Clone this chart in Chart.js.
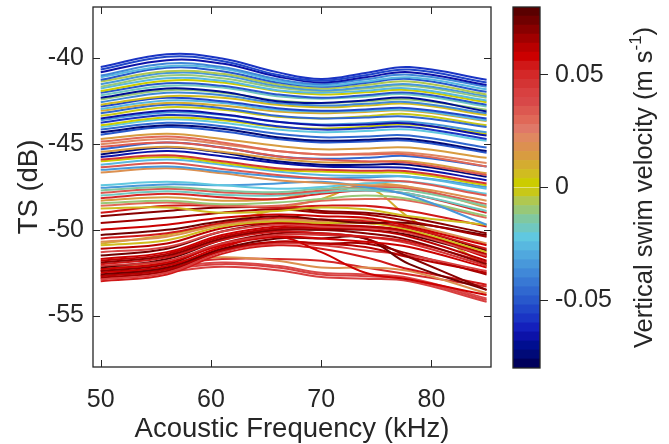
<!DOCTYPE html>
<html>
<head>
<meta charset="utf-8">
<title>TS vs frequency</title>
<script src="https://cdn.jsdelivr.net/npm/chart.js"></script>
<style>
  body { margin: 0; background: #fff; }
  #wrap { position: relative; width: 669px; height: 444px; }
  #tsChart { position: absolute; left: 0; top: 0; }
  #cbChart { position: absolute; left: 505px; top: 0; }
</style>
</head>
<body>
<div id="wrap">
  <canvas id="tsChart" width="669" height="444"></canvas>
  <canvas id="cbChart" width="164" height="444"></canvas>
</div>
<script>
const freqKHz = [50, 56, 61, 66, 70, 74, 78, 85];
const freqTicks = [50, 60, 70, 80];
const tsTicks = [-55, -50, -45, -40];
const tsTickLabels = ['-55', '-50', '-45', '-40'];

// vertical swim velocity (m/s) of each curve -> its colour
const swimVelocity = [
  // upper (blue / cyan / yellow)
  -0.060, -0.055, -0.066, -0.040, -0.028, -0.050, -0.006, -0.035, -0.012, -0.025,
  0.002, -0.050, -0.018, -0.070, -0.010, -0.038, 0.004, -0.055, -0.027, 0.008,
  -0.048, -0.004, -0.068, -0.033, -0.058, 0.000, -0.022, -0.045, -0.076, -0.052,
  // middle mix
  0.015, 0.030, 0.020, 0.035, -0.045, 0.012, -0.074, -0.066, 0.045, 0.003, -0.026, 0.033, -0.036, 0.018,
  // lower mix
  -0.024, -0.035, -0.014, 0.032, -0.017, 0.050, 0.014, -0.009, 0.028, 0.005, 0.055,
  // red bundle
  0.070, 0.066, 0.058, 0.074, 0.055, 0.016, 0.006, 0.060, 0.038, 0.072, 0.057, 0.062,
  0.068, 0.052, 0.045, 0.078, 0.058, 0.070, 0.056, 0.074, 0.060, 0.042, 0.053, 0.066,
  // bottom stragglers
  0.018, 0.036, 0.040, 0.043, 0.050, 0.010
];

// TS (dB) of each curve at freqKHz
const tsCurves = [
  [-40.5, -39.75, -40.0, -40.8, -41.2, -40.85, -40.5, -41.25],
  [-40.65, -39.9, -40.15, -40.95, -41.3, -40.98, -40.65, -41.4],
  [-40.8, -40.1, -40.3, -41.05, -41.4, -41.1, -40.8, -41.55],
  [-41.0, -40.3, -40.5, -41.2, -41.5, -41.22, -40.95, -41.65],
  [-41.1, -40.45, -40.6, -41.3, -41.6, -41.35, -41.1, -41.8],
  [-41.25, -40.55, -40.75, -41.4, -41.65, -41.43, -41.2, -41.95],
  [-41.35, -40.75, -40.9, -41.5, -41.75, -41.55, -41.35, -42.1],
  [-41.5, -40.85, -41.0, -41.6, -41.85, -41.68, -41.5, -42.2],
  [-41.65, -41.0, -41.15, -41.7, -41.9, -41.75, -41.6, -42.3],
  [-41.75, -41.15, -41.3, -41.85, -42.0, -41.88, -41.75, -42.45],
  [-41.9, -41.3, -41.4, -41.9, -42.1, -41.98, -41.85, -42.55],
  [-42.0, -41.45, -41.6, -42.1, -42.3, -42.15, -42.0, -42.7],
  [-42.15, -41.6, -41.7, -42.2, -42.35, -42.23, -42.1, -42.8],
  [-42.3, -41.75, -41.95, -42.5, -42.6, -42.45, -42.3, -43.1],
  [-42.4, -41.85, -42.0, -42.45, -42.6, -42.5, -42.4, -43.0],
  [-42.55, -42.0, -42.15, -42.6, -42.75, -42.65, -42.55, -43.2],
  [-42.7, -42.2, -42.3, -42.7, -42.85, -42.75, -42.65, -43.3],
  [-42.8, -42.3, -42.5, -42.9, -43.05, -42.98, -42.9, -43.5],
  [-42.95, -42.45, -42.6, -43.0, -43.1, -43.05, -43.0, -43.6],
  [-43.05, -42.6, -42.75, -43.1, -43.2, -43.12, -43.05, -43.65],
  [-43.2, -42.7, -42.9, -43.35, -43.5, -43.45, -43.4, -44.0],
  [-43.35, -42.85, -43.0, -43.4, -43.5, -43.38, -43.25, -43.9],
  [-43.5, -43.05, -43.25, -43.7, -43.9, -43.85, -43.8, -44.5],
  [-43.6, -43.15, -43.3, -43.7, -43.85, -43.78, -43.7, -44.3],
  [-43.75, -43.3, -43.5, -43.95, -44.15, -44.08, -44.0, -44.7],
  [-43.9, -43.45, -43.6, -44.0, -44.1, -43.98, -43.85, -44.4],
  [-44.0, -43.55, -43.75, -44.15, -44.3, -44.23, -44.15, -44.8],
  [-44.15, -43.75, -43.95, -44.4, -44.6, -44.55, -44.5, -45.2],
  [-44.3, -43.9, -44.1, -44.6, -44.8, -44.75, -44.7, -45.4],
  [-44.45, -44.0, -44.25, -44.7, -44.9, -44.85, -44.8, -45.5],

  [-44.7, -44.4, -44.7, -45.1, -45.3, -45.25, -45.2, -45.8],
  [-44.85, -44.55, -44.9, -45.4, -45.6, -45.6, -45.6, -46.3],
  [-45.0, -44.7, -45.0, -45.4, -45.6, -45.55, -45.5, -46.1],
  [-45.15, -44.9, -45.2, -45.7, -45.9, -46.0, -46.1, -46.8],
  [-45.3, -44.9, -45.2, -45.7, -45.85, -45.8, -45.7, -46.3],
  [-45.45, -45.15, -45.45, -45.85, -46.05, -46.05, -46.0, -46.7],
  [-45.6, -45.2, -45.5, -46.0, -46.2, -46.2, -46.2, -46.9],
  [-45.75, -45.4, -45.7, -46.1, -46.3, -46.35, -46.4, -47.1],
  [-45.9, -45.65, -46.0, -46.4, -46.5, -46.55, -46.6, -47.3],
  [-46.0, -45.75, -46.1, -46.5, -46.6, -46.65, -46.7, -47.4],
  [-46.2, -45.9, -46.2, -46.6, -46.8, -46.85, -46.9, -47.6],
  [-46.35, -46.1, -46.45, -46.8, -47.0, -47.1, -47.2, -48.0],
  [-46.5, -46.3, -46.6, -46.9, -47.0, -46.95, -46.9, -47.5],
  [-46.65, -46.4, -46.7, -47.1, -47.25, -47.4, -47.5, -48.3],

  [-47.4, -47.2, -47.4, -47.6, -47.5, -47.3, -47.2, -47.9],
  [-47.55, -47.35, -47.4, -47.3, -47.2, -47.5, -48.0, -49.7],
  [-47.7, -47.5, -47.7, -47.8, -47.6, -47.6, -47.7, -48.6],
  [-47.85, -47.6, -47.8, -47.9, -47.7, -47.5, -47.6, -48.5],
  [-48.0, -47.75, -47.95, -48.0, -47.8, -47.7, -47.9, -48.9],
  [-48.15, -47.9, -48.1, -48.2, -47.9, -47.7, -47.9, -49.0],
  [-48.3, -48.1, -48.3, -48.2, -47.7, -47.3, -47.5, -48.7],
  [-48.45, -48.3, -48.5, -48.4, -48.2, -48.0, -48.2, -49.2],
  [-48.6, -48.4, -48.6, -48.6, -48.3, -48.2, -48.3, -49.3],
  [-48.75, -48.7, -49.0, -48.9, -48.7, -48.8, -49.2, -49.7],
  [-49.0, -48.6, -48.6, -48.7, -48.6, -48.6, -48.9, -49.8],

  [-49.2, -48.9, -48.7, -48.7, -48.9, -49.0, -49.3, -50.2],
  [-49.6, -49.3, -49.0, -48.8, -49.0, -49.1, -49.5, -50.4],
  [-50.0, -49.7, -49.3, -49.1, -49.2, -49.3, -49.8, -50.9],
  [-50.3, -50.0, -49.5, -49.2, -49.4, -49.6, -49.6, -50.3],
  [-50.5, -50.2, -49.6, -49.3, -49.4, -49.5, -49.9, -51.1],
  [-50.7, -50.4, -49.7, -49.4, -49.5, -49.4, -49.7, -50.8],
  [-50.9, -50.6, -49.8, -49.5, -49.6, -49.6, -50.0, -51.3],
  [-51.1, -50.8, -49.9, -49.6, -49.7, -49.8, -50.1, -51.4],
  [-51.3, -51.0, -50.1, -49.7, -49.8, -49.9, -50.2, -51.5],
  [-51.5, -51.1, -50.1, -49.6, -49.6, -49.6, -49.9, -51.2],
  [-51.7, -51.3, -50.3, -49.8, -49.8, -49.8, -50.1, -51.6],
  [-51.8, -51.4, -50.4, -49.9, -49.9, -50.0, -50.4, -51.8],
  [-51.9, -51.5, -50.5, -50.0, -50.0, -50.2, -50.6, -52.0],
  [-52.0, -51.6, -50.6, -50.1, -50.2, -50.4, -50.7, -51.9],
  [-52.1, -51.8, -50.8, -50.3, -50.3, -50.4, -50.8, -52.1],
  [-52.2, -51.7, -50.6, -50.0, -50.0, -50.0, -50.3, -51.5],
  [-52.3, -51.9, -50.9, -50.4, -50.5, -50.7, -51.0, -52.2],
  [-52.4, -52.0, -50.8, -50.2, -50.2, -50.5, -51.6, -53.5],
  [-52.5, -52.1, -51.0, -50.4, -51.3, -52.5, -52.9, -53.8],
  [-52.6, -52.2, -51.1, -50.5, -50.5, -50.5, -52.0, -53.5],
  [-52.7, -52.3, -51.2, -50.7, -50.8, -51.0, -51.6, -52.5],
  [-52.9, -52.5, -51.3, -50.8, -50.9, -51.2, -51.5, -52.4],
  [-53.0, -52.6, -51.4, -50.9, -51.1, -51.6, -52.3, -53.2],
  [-52.8, -52.4, -51.2, -50.7, -50.8, -50.8, -51.4, -52.6],

  [-52.3, -51.9, -51.6, -51.8, -52.2, -52.2, -52.4, -53.7],
  [-52.6, -52.2, -51.9, -52.1, -52.5, -52.6, -52.8, -54.0],
  [-52.7, -52.3, -52.0, -52.2, -52.6, -52.7, -52.9, -54.1],
  [-52.85, -52.45, -52.15, -52.35, -52.75, -52.85, -53.0, -54.2],
  [-52.4, -52.0, -51.7, -51.7, -51.8, -52.2, -52.6, -53.3],
  [-50.8, -50.3, -49.6, -48.8, -48.2, -47.5, -49.3, -52.1]
];

// colour bar: 40 bands from -0.08 (bottom) to 0.08 (top)
const cbLimits = [-0.08, 0.08];
const cbColors = [
  '#00005c', '#000a78', '#000e90', '#0c12a8', '#1420bc', '#1a34c4', '#2046c8', '#2858cc',
  '#3068d0', '#3878d4', '#4088d8', '#4898da', '#50a8de', '#58b8e0', '#60c8e0', '#70c8c0',
  '#80c8a0', '#98c878', '#b0c850', '#c8c818', '#cccc00', '#d0bc20', '#d4ac30', '#d89c40',
  '#dc9050', '#e08860', '#e07868', '#e06858', '#dc5850', '#d84848', '#d84040', '#d43434',
  '#d42828', '#d01818', '#cc0000', '#b80000', '#a00000', '#880000', '#700000', '#5a0000'
];
const cbTicks = [-0.05, 0, 0.05];
const cbTickLabels = ['-0.05', '0', '0.05'];

const ink = '#262626';
const family = "'Liberation Sans', Arial, sans-serif";
const bandStep = (cbLimits[1] - cbLimits[0]) / cbColors.length;

function velocityColor(v) {
  let i = Math.floor((v - cbLimits[0]) / bandStep + 1e-9);
  return cbColors[Math.max(0, Math.min(cbColors.length - 1, i))];
}

// scales assume labels sit at the edges and pad for them; they don't here
function noEdgePad(s) {
  s.paddingTop = 0; s.paddingBottom = 0; s.paddingLeft = 0; s.paddingRight = 0;
}

// box + inward ticks on all four sides
const framePlugin = {
  id: 'frame',
  afterDraw(chart) {
    const { ctx, chartArea: a, scales: { x, y } } = chart;
    ctx.save();
    ctx.strokeStyle = ink;
    ctx.lineWidth = 1.3;
    ctx.strokeRect(a.left, a.top, a.right - a.left, a.bottom - a.top);
    ctx.lineWidth = 1;
    ctx.beginPath();
    x.ticks.forEach(t => {
      const px = Math.round(x.getPixelForValue(t.value)) + 0.5;
      ctx.moveTo(px, a.bottom); ctx.lineTo(px, a.bottom - 7);
      ctx.moveTo(px, a.top); ctx.lineTo(px, a.top + 7);
    });
    y.ticks.forEach(t => {
      const py = Math.round(y.getPixelForValue(t.value)) + 0.5;
      ctx.moveTo(a.left, py); ctx.lineTo(a.left + 7, py);
      ctx.moveTo(a.right, py); ctx.lineTo(a.right - 7, py);
    });
    ctx.stroke();
    ctx.restore();
  }
};

new Chart(document.getElementById('tsChart'), {
  type: 'line',
  data: {
    datasets: tsCurves.map((ts, i) => ({
      data: ts.map((v, j) => ({ x: freqKHz[j], y: v })),
      borderColor: velocityColor(swimVelocity[i]),
      borderWidth: 2,
      pointRadius: 0,
      tension: 0.4,
      fill: false
    }))
  },
  options: {
    responsive: false,
    animation: false,
    events: [],
    layout: { padding: { top: 7, right: 178, left: 0, bottom: 0 } },
    plugins: { legend: { display: false }, tooltip: { enabled: false } },
    scales: {
      x: {
        type: 'linear', min: 49.3, max: 85.4,
        afterBuildTicks: s => { s.ticks = freqTicks.map(v => ({ value: v })); },
        afterFit: s => { s.height = 77; noEdgePad(s); },
        grid: { display: false, drawTicks: false },
        border: { display: false },
        ticks: { color: ink, font: { family, size: 25 }, padding: 18, maxRotation: 0, callback: v => String(v) },
        title: { display: true, text: 'Acoustic Frequency (kHz)', color: ink, font: { family, size: 27.5, lineHeight: 1.05 }, padding: { top: 0, bottom: 0 } }
      },
      y: {
        type: 'linear', min: -58, max: -37,
        afterBuildTicks: s => { s.ticks = tsTicks.map(v => ({ value: v })); },
        afterFit: s => { s.width = 93; noEdgePad(s); },
        grid: { display: false, drawTicks: false },
        border: { display: false },
        ticks: { color: ink, font: { family, size: 25 }, padding: 9, callback: (v, i) => tsTickLabels[i] },
        title: { display: true, text: 'TS (dB)', color: ink, font: { family, size: 27.5 }, padding: { top: 13, bottom: 0 } }
      }
    }
  },
  plugins: [framePlugin]
});

// colour bar frame and rotated label with superscript
const cbPlugin = {
  id: 'cbFrame',
  afterDraw(chart) {
    const { ctx, chartArea: a } = chart;
    ctx.save();
    ctx.strokeStyle = ink;
    ctx.lineWidth = 1.3;
    ctx.strokeRect(a.left, a.top, a.right - a.left, a.bottom - a.top);
    const main = 'Vertical swim velocity (m s';
    const big = '25.5px ' + family, small = '17px ' + family;
    ctx.font = big; const w1 = ctx.measureText(main).width; const w3 = ctx.measureText(')').width;
    ctx.font = small; const w2 = ctx.measureText('-1').width;
    const x0 = -(w1 + w2 + w3) / 2;
    ctx.translate(147, (a.top + a.bottom) / 2);
    ctx.rotate(-Math.PI / 2);
    ctx.fillStyle = ink;
    ctx.textBaseline = 'alphabetic';
    ctx.font = big; ctx.fillText(main, x0, 0);
    ctx.font = small; ctx.fillText('-1', x0 + w1, -11);
    ctx.font = big; ctx.fillText(')', x0 + w1 + w2, 0);
    ctx.restore();
  }
};

new Chart(document.getElementById('cbChart'), {
  type: 'bar',
  data: {
    labels: [''],
    datasets: cbColors.map((c, i) => ({
      data: [[cbLimits[0] + i * bandStep, cbLimits[0] + (i + 1) * bandStep]],
      backgroundColor: c,
      borderWidth: 0,
      barPercentage: 1,
      categoryPercentage: 1,
      grouped: false
    }))
  },
  options: {
    responsive: false,
    animation: false,
    events: [],
    layout: { padding: { left: 8, top: 7, right: 0, bottom: 76 } },
    plugins: { legend: { display: false }, tooltip: { enabled: false } },
    scales: {
      x: { display: false },
      y: {
        position: 'right', min: cbLimits[0], max: cbLimits[1],
        afterBuildTicks: s => { s.ticks = cbTicks.map(v => ({ value: v })); },
        afterFit: s => { s.width = 129; noEdgePad(s); },
        grid: { drawOnChartArea: false, tickLength: 8, color: ink, tickColor: ink },
        border: { display: false },
        ticks: { color: ink, font: { family, size: 25 }, padding: 7, callback: (v, i) => cbTickLabels[i] }
      }
    }
  },
  plugins: [cbPlugin]
});
</script>
</body>
</html>
